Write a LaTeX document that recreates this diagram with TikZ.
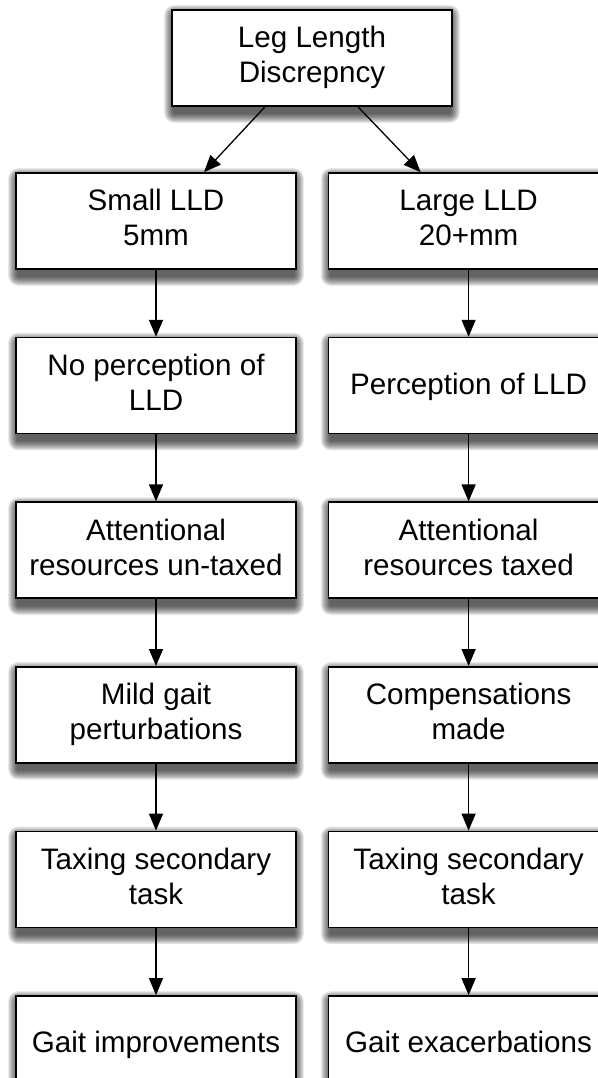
\documentclass[tikz,border=0pt]{standalone}
\usepackage{fontspec}
\setmainfont{Liberation Sans}
\usetikzlibrary{positioning,arrows.meta,backgrounds}

\newcommand{\capstrut}{\rule{0pt}{24pt}}
\newcommand{\descstrut}{\rule[-6.5pt]{0pt}{6.5pt}}

\begin{document}
\begin{tikzpicture}[
  box/.style={rectangle,draw,line width=1.6pt,fill=white,
    minimum width=280pt,minimum height=96pt,align=center,
    font=\fontsize{29.6}{35}\selectfont,
    execute at begin node=\capstrut,execute at end node=\descstrut},
  flow/.style={-{Triangle[length=17pt,width=14pt]},line width=1.3pt},
  node distance=67pt and 31pt,
]
\useasboundingbox (0,0) rectangle (597pt,-1078pt);

\node [box] (lld) at (312pt,-58pt) {Leg Length\\Discrepncy};

% small discrepancy
\node [box] (small) at (156pt,-221pt) {Small LLD\\5mm};
\node [box,below=of small] (noperc) {No perception of\\LLD};
\node [box,below=of noperc] (untaxed) {Attentional\\resources un-taxed};
\node [box,below=of untaxed] (mild) {Mild gait\\perturbations};
\node [box,below=of mild] (tasks) {Taxing secondary\\task};
\node [box,below=of tasks] (improve) {Gait improvements};

% large discrepancy
\node [box,right=of small] (large) {Large LLD\\20+mm};
\node [box,below=of large] (perc) {Perception of LLD};
\node [box,below=of perc] (taxed) {Attentional\\resources taxed};
\node [box,below=of taxed] (comp) {Compensations\\made};
\node [box,below=of comp] (taskl) {Taxing secondary\\task};
\node [box,below=of taskl] (exacer) {Gait exacerbations};

% soft shadows under the boxes
\begin{scope}[on background layer]
\foreach \n in {lld,small,noperc,untaxed,mild,tasks,improve,large,perc,taxed,comp,taskl,exacer}
  \foreach \r in {1,...,10}
    \fill [black,opacity=0.09,rounded corners=\r pt]
      ([shift={(3pt-\r pt,-6pt-\r pt)}]\n.south west) rectangle ([shift={(\r pt-3pt,\r pt-6pt)}]\n.north east);
\end{scope}

\draw [flow] ([xshift=-47pt]lld.south) -- ([xshift=48pt]small.north);
\draw [flow] ([xshift=46pt]lld.south) -- ([xshift=-48pt]large.north);

\foreach \a/\b in {small/noperc,noperc/untaxed,untaxed/mild,mild/tasks,tasks/improve,
                   large/perc,perc/taxed,taxed/comp,comp/taskl,taskl/exacer}
  \draw [flow] (\a) -- (\b);
\end{tikzpicture}
\end{document}
